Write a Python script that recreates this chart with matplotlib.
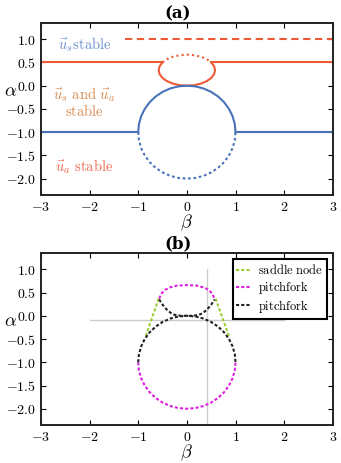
import matplotlib
matplotlib.use('Agg')
import matplotlib.pyplot as plt
from matplotlib.ticker import FormatStrFormatter

plt.rcParams['mathtext.fontset'] = 'cm'
plt.rcParams['font.family'] = ['DejaVu Serif']

# 数据: 圆 (中心 (0,-1), 半径 1)
beta_circ = [-1.0, -0.985, -0.940, -0.866, -0.766, -0.643, -0.5, -0.342, -0.174, 0.0,
             0.174, 0.342, 0.5, 0.643, 0.766, 0.866, 0.940, 0.985, 1.0]
alpha_circ_up = [-1.0, -0.826, -0.658, -0.5, -0.357, -0.234, -0.134, -0.060, -0.015, 0.0,
                 -0.015, -0.060, -0.134, -0.234, -0.357, -0.5, -0.658, -0.826, -1.0]
alpha_circ_low = [-1.0, -1.174, -1.342, -1.5, -1.643, -1.766, -1.866, -1.940, -1.985, -2.0,
                  -1.985, -1.940, -1.866, -1.766, -1.643, -1.5, -1.342, -1.174, -1.0]

# 小椭圆 (a)
beta_ell_top = [-0.502, -0.410, -0.29, -0.150, 0.0, 0.150, 0.29, 0.410, 0.502]
alpha_ell_top = [0.5, 0.569, 0.622, 0.655, 0.667, 0.655, 0.622, 0.569, 0.5]
beta_ell_low = [-0.502, -0.560, -0.58, -0.560, -0.502, -0.410, -0.29, -0.150, 0.0,
                0.150, 0.29, 0.410, 0.502, 0.560, 0.58, 0.560, 0.502]
alpha_ell_low = [0.5, 0.419, 0.333, 0.247, 0.167, 0.098, 0.045, 0.011, 0.0,
                 0.011, 0.045, 0.098, 0.167, 0.247, 0.333, 0.419, 0.5]

# 直线段 (a)
beta_left_half = [-3.0, -0.502]
beta_right_half = [0.502, 3.0]
beta_left_one = [-3.0, -1.0]
beta_right_one = [1.0, 3.0]
beta_dash = [-1.28, 3.0]

# (b) 分岔曲线
beta_pf_top = [-0.57, -0.52, -0.45, -0.35, -0.2, 0.0, 0.2, 0.35, 0.45, 0.52, 0.57]
alpha_pf_top = [0.37, 0.48, 0.555, 0.61, 0.65, 0.66, 0.65, 0.61, 0.555, 0.48, 0.37]
beta_pf2_top = [-0.57, -0.5, -0.42, -0.33, -0.25, -0.12, 0.0, 0.12, 0.25, 0.33, 0.42, 0.5, 0.57]
alpha_pf2_top = [0.35, 0.24, 0.14, 0.06, 0.02, 0.0, 0.0, 0.0, 0.02, 0.06, 0.14, 0.24, 0.35]
beta_sn_left = [-0.58, -0.86]
alpha_sn_left = [0.37, -0.48]
beta_sn_right = [0.59, 0.88]
alpha_sn_right = [0.37, -0.48]
beta_hline = [-2.0, 2.0]
alpha_hline = [-0.1, -0.1]
beta_vline = [0.41, 0.41]
alpha_vline = [1.0, -2.5]

blue = '#4a72b8'
red = '#ee5a36'
green = '#9acd32'
mag = '#dd22dd'

fig = plt.figure(figsize=(3.41, 4.63), dpi=100)
ax1 = fig.add_axes([0.120, 0.579, 0.856, 0.3715])
ax2 = fig.add_axes([0.120, 0.082, 0.856, 0.3715])

lw = 1.5
# (a)
ax1.plot(beta_dash, [1.0, 1.0], c=red, lw=lw, dashes=(3.5, 2.2))
ax1.plot(beta_left_half, [0.5, 0.5], c=red, lw=lw)
ax1.plot(beta_right_half, [0.5, 0.5], c=red, lw=lw)
ax1.plot(beta_ell_top, alpha_ell_top, c=red, lw=lw, dashes=(1.0, 1.5))
ax1.plot(beta_ell_low, alpha_ell_low, c=red, lw=lw)
ax1.plot(beta_left_one, [-1.0, -1.0], c=blue, lw=lw)
ax1.plot(beta_right_one, [-1.0, -1.0], c=blue, lw=lw)
ax1.plot(beta_circ, alpha_circ_up, c=blue, lw=lw)
ax1.plot(beta_circ, alpha_circ_low, c=blue, lw=lw, dashes=(1.3, 1.3))

ax1.text(-2.1, 0.88, r'$\vec{u}_s\mathrm{stable}$', color='#6a8fcc', fontsize=10.5,
         ha='center', va='center')
ax1.text(-2.1, -0.35, r'$\vec{u}_s\ \mathrm{and}\ \vec{u}_a$' + '\n' + r'$\mathrm{stable}$',
         color='#d98a4e', fontsize=10.5, ha='center', va='center', linespacing=0.9)
ax1.text(-2.1, -1.74, r'$\vec{u}_a\ \mathrm{stable}$', color='#ef6a4a', fontsize=10.5,
         ha='center', va='center')
ax1.set_title('(a)', fontsize=12, fontweight='bold', x=0.47, pad=3,
              family='DejaVu Serif')

# (b)
ax2.plot(beta_hline, alpha_hline, c='#cccccc', lw=1.0)
ax2.plot(beta_vline, alpha_vline, c='#cccccc', lw=1.0)
ax2.plot(beta_sn_left, alpha_sn_left, c=green, lw=lw, dashes=(1.5, 1.0), label=r'$\mathrm{saddle\ node}$')
ax2.plot(beta_sn_right, alpha_sn_right, c=green, lw=lw, dashes=(1.5, 1.0))
ax2.plot(beta_pf_top, alpha_pf_top, c=mag, lw=lw, dashes=(1.5, 1.0), label=r'$\mathrm{pitchfork}$')
ax2.plot(beta_circ, alpha_circ_low, c=mag, lw=lw, dashes=(1.5, 1.0))
ax2.plot(beta_pf2_top, alpha_pf2_top, c='#222222', lw=lw, dashes=(1.5, 1.0), label=r'$\mathrm{pitchfork}$')
ax2.plot(beta_circ, alpha_circ_up, c='#222222', lw=lw, dashes=(1.5, 1.0))
ax2.set_title('(b)', fontsize=12, fontweight='bold', x=0.47, pad=3,
              family='DejaVu Serif')
leg = ax2.legend(loc='upper right', fontsize=9.0, fancybox=False, framealpha=1,
                 handlelength=1.1, handletextpad=0.6, borderpad=0.3, labelspacing=0.15,
                 borderaxespad=0.5)
leg.get_frame().set_edgecolor('black')
leg.get_frame().set_linewidth(1.5)

for ax in (ax1, ax2):
    ax.set_xlim(-3, 3)
    ax.set_ylim(-2.35, 1.35)
    ax.set_xticks([-3, -2, -1, 0, 1, 2, 3])
    ax.set_yticks([-2.0, -1.5, -1.0, -0.5, 0.0, 0.5, 1.0])
    ax.xaxis.set_major_formatter(FormatStrFormatter('$%d$'))
    ax.yaxis.set_major_formatter(FormatStrFormatter('$%.1f$'))
    ax.tick_params(direction='in', top=True, right=True, length=3.5, width=0.8,
                   labelsize=10, pad=3.5)
    for s in ax.spines.values():
        s.set_linewidth(1.4)
        s.set_color('#222222')
    ax.set_xlabel(r'$\beta$', fontsize=13, labelpad=-1)
    ax.set_ylabel(r'$\alpha$', fontsize=13, rotation=0)
    ax.yaxis.set_label_coords(-0.105, 0.55)

fig.savefig('out.png', dpi=100)
